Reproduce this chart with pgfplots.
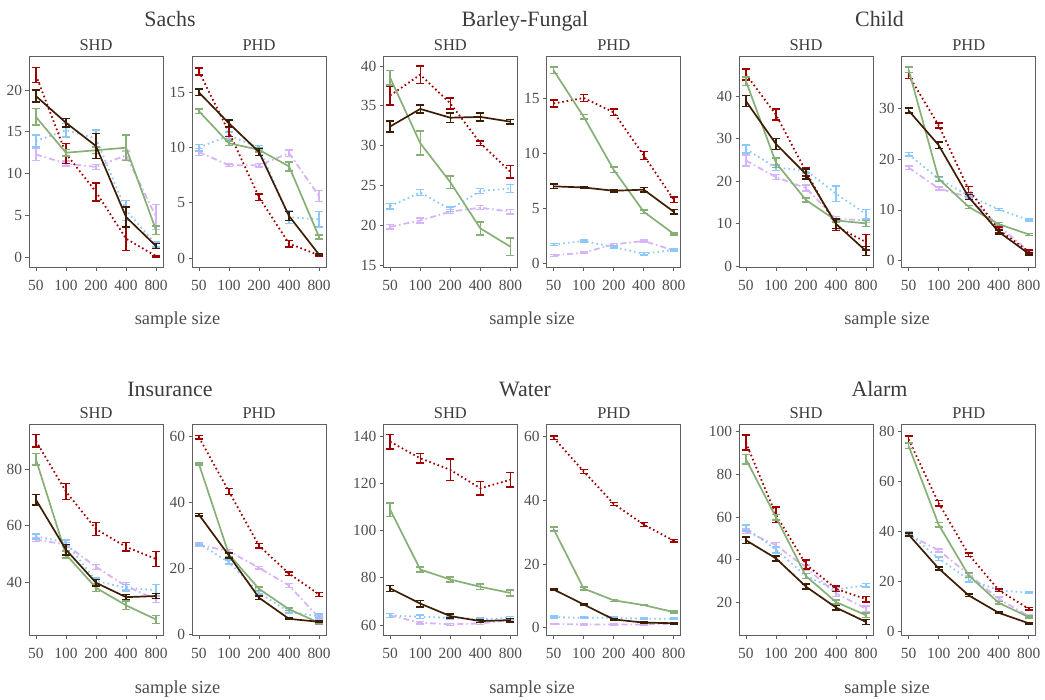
\documentclass[border=0pt]{standalone}
\usepackage{fontspec}
\setmainfont{Liberation Serif}
\usepackage{pgfplots}
\pgfplotsset{compat=1.18}

\definecolor{cRed}{RGB}{160,0,0}
\definecolor{cGreen}{RGB}{134,176,118}
\definecolor{cBrown}{RGB}{61,30,5}
\definecolor{cBlue}{RGB}{140,200,250}
\definecolor{cLav}{RGB}{215,180,250}
\definecolor{cFrame}{RGB}{95,95,95}
\definecolor{cText}{RGB}{77,77,77}
\definecolor{cTitle}{RGB}{60,60,60}

\pgfplotsset{
  panel/.style={
    scale only axis, width=134bp, height=211bp,
    xmin=-0.23, xmax=4.23,
    xtick={0,1,2,3,4}, xticklabels={50,100,200,400,800},
    axis line style={draw=cFrame, line width=1bp},
    tick style={draw=cFrame, line width=0.8bp},
    tick align=outside, major tick length=3.5bp,
    xtick pos=left, ytick pos=left,
    ticklabel style={font=\fontsize{15.5}{16}\selectfont, text=cText},
    xticklabel style={yshift=-6.5bp},
    /pgf/number format/assume math mode=true,
    title style={font=\fontsize{16.5}{17}\selectfont, text=cTitle,
      at={(0.5,1)}, anchor=base, yshift=0bp},
    no markers,
  },
  ebars/.style={
    error bars/.cd, y dir=both, y explicit,
    error bar style={solid, line width=1.5bp},
    error mark options={solid, rotate=90, mark size=4bp, line width=1.5bp},
  },
  sRed/.style={cRed, line width=1.8bp, dash pattern=on 1.6bp off 2.8bp, ebars},
  sGreen/.style={cGreen, line width=1.7bp, solid, ebars},
  sBrown/.style={cBrown, line width=1.7bp, solid, ebars},
  sBlue/.style={cBlue, line width=1.8bp, dash pattern=on 1.6bp off 3.2bp, ebars},
  sLav/.style={cLav, line width=1.8bp, dash pattern=on 6bp off 3bp on 1.6bp off 3bp, ebars},
}

\newcommand{\rowtitle}[3]{\node[anchor=base, font=\fontsize{22}{22}\selectfont, text=cTitle] at (#1bp,#2bp) {#3};}
\newcommand{\xlab}[2]{\node[anchor=base, font=\fontsize{18.5}{19}\selectfont, text=cText] at (#1bp,#2bp) {sample size};}

\begin{document}
\begin{tikzpicture}
\path[use as bounding box] (0bp,0bp) rectangle (1045bp,-700bp);

% ---------------- Sachs ----------------
\begin{axis}[panel, at={(29bp,-56bp)}, anchor=north west, title={SHD},
  ymin=-1.2, ymax=24.1, ytick={0,5,10,15,20}]
\addplot[sLav] coordinates {(0,12.3)+-(0,0.7) (1,11.2)+-(0,0.3) (2,10.8)+-(0,0.3) (3,12.2)+-(0,0.5) (4,4.8)+-(0,1.5)};
\addplot[sBlue] coordinates {(0,13.9)+-(0,0.7) (1,15.2)+-(0,0.8) (2,14.2)+-(0,1.0) (3,5.6)+-(0,1.2) (4,1.5)+-(0,0.3)};
\addplot[sRed] coordinates {(0,21.8)+-(0,0.9) (1,12.4)+-(0,1.2) (2,7.8)+-(0,1.1) (3,2.2)+-(0,1.4) (4,0.1)+-(0,0.1)};
\addplot[sGreen] coordinates {(0,16.8)+-(0,1.0) (1,12.5)+-(0,0.4) (2,12.8)+-(0,0.4) (3,13.1)+-(0,1.5) (4,3.2)+-(0,0.5)};
\addplot[sBrown] coordinates {(0,19.3)+-(0,0.7) (1,16.1)+-(0,0.5) (2,13.3)+-(0,1.5) (3,4.8)+-(0,1.2) (4,1.3)+-(0,0.3)};
\end{axis}
\begin{axis}[panel, at={(192bp,-56bp)}, anchor=north west, title={PHD},
  ymin=-0.82, ymax=18.3, ytick={0,5,10,15}]
\addplot[sLav] coordinates {(0,9.6)+-(0,0.3) (1,8.4)+-(0,0.1) (2,8.4)+-(0,0.15) (3,9.5)+-(0,0.3) (4,5.6)+-(0,0.5)};
\addplot[sBlue] coordinates {(0,10.0)+-(0,0.3) (1,11.1)+-(0,0.3) (2,10.0)+-(0,0.2) (3,3.7)+-(0,0.6) (4,3.5)+-(0,0.7)};
\addplot[sRed] coordinates {(0,16.9)+-(0,0.3) (1,11.4)+-(0,0.4) (2,5.5)+-(0,0.3) (3,1.3)+-(0,0.3) (4,0.25)+-(0,0.1)};
\addplot[sGreen] coordinates {(0,13.3)+-(0,0.2) (1,10.4)+-(0,0.2) (2,9.8)+-(0,0.2) (3,8.3)+-(0,0.4) (4,1.9)+-(0,0.2)};
\addplot[sBrown] coordinates {(0,15.0)+-(0,0.3) (1,12.2)+-(0,0.3) (2,9.6)+-(0,0.3) (3,3.8)+-(0,0.4) (4,0.3)+-(0,0.1)};
\end{axis}

% ---------------- Barley-Fungal ----------------
\begin{axis}[panel, at={(383.3bp,-56bp)}, anchor=north west, title={SHD},
  ymin=14.75, ymax=41.25, ytick={15,20,25,30,35,40}]
\addplot[sLav] coordinates {(0,19.8)+-(0,0.3) (1,20.6)+-(0,0.3) (2,21.7)+-(0,0.25) (3,22.2)+-(0,0.25) (4,21.7)+-(0,0.3)};
\addplot[sBlue] coordinates {(0,22.4)+-(0,0.35) (1,24.1)+-(0,0.4) (2,22.0)+-(0,0.3) (3,24.3)+-(0,0.3) (4,24.6)+-(0,0.5)};
\addplot[sRed] coordinates {(0,36.3)+-(0,1.2) (1,38.9)+-(0,1.1) (2,35.3)+-(0,0.7) (3,30.3)+-(0,0.3) (4,26.7)+-(0,0.8)};
\addplot[sGreen] coordinates {(0,38.5)+-(0,0.9) (1,30.3)+-(0,1.5) (2,25.4)+-(0,0.8) (3,19.6)+-(0,0.8) (4,17.3)+-(0,1.1)};
\addplot[sBrown] coordinates {(0,32.4)+-(0,0.7) (1,34.6)+-(0,0.5) (2,33.5)+-(0,0.6) (3,33.6)+-(0,0.5) (4,33.0)+-(0,0.3)};
\end{axis}
\begin{axis}[panel, at={(546.7bp,-56bp)}, anchor=north west, title={PHD},
  ymin=-0.3, ymax=18.8, ytick={0,5,10,15}]
\addplot[sLav] coordinates {(0,0.75)+-(0,0.08) (1,1.0)+-(0,0.08) (2,1.75)+-(0,0.1) (3,2.05)+-(0,0.1) (4,1.2)+-(0,0.1)};
\addplot[sBlue] coordinates {(0,1.75)+-(0,0.1) (1,2.05)+-(0,0.1) (2,1.5)+-(0,0.1) (3,0.9)+-(0,0.1) (4,1.25)+-(0,0.1)};
\addplot[sRed] coordinates {(0,14.5)+-(0,0.3) (1,15.0)+-(0,0.3) (2,13.7)+-(0,0.3) (3,9.8)+-(0,0.35) (4,5.8)+-(0,0.25)};
\addplot[sGreen] coordinates {(0,17.5)+-(0,0.3) (1,13.3)+-(0,0.2) (2,8.5)+-(0,0.25) (3,4.7)+-(0,0.15) (4,2.7)+-(0,0.1)};
\addplot[sBrown] coordinates {(0,7.0)+-(0,0.2) (1,6.9)+-(0,0.1) (2,6.6)+-(0,0.1) (3,6.7)+-(0,0.2) (4,4.7)+-(0,0.2)};
\end{axis}

% ---------------- Child ----------------
\begin{axis}[panel, at={(739bp,-56bp)}, anchor=north west, title={SHD},
  ymin=-0.25, ymax=49.4, ytick={0,10,20,30,40}]
\addplot[sLav] coordinates {(0,24.8)+-(0,1.3) (1,20.9)+-(0,0.6) (2,18.3)+-(0,0.7) (3,11.1)+-(0,0.5) (4,10.7)+-(0,0.5)};
\addplot[sBlue] coordinates {(0,27.5)+-(0,0.9) (1,23.1)+-(0,0.7) (2,22.5)+-(0,0.6) (3,17.0)+-(0,1.8) (4,12.2)+-(0,1.1)};
\addplot[sRed] coordinates {(0,45.1)+-(0,1.3) (1,35.6)+-(0,1.3) (2,22.2)+-(0,1.0) (3,9.3)+-(0,1.0) (4,5.6)+-(0,1.8)};
\addplot[sGreen] coordinates {(0,43.5)+-(0,1.0) (1,24.3)+-(0,1.1) (2,15.5)+-(0,0.5) (3,10.7)+-(0,0.4) (4,10.0)+-(0,0.7)};
\addplot[sBrown] coordinates {(0,38.8)+-(0,1.3) (1,28.7)+-(0,1.3) (2,21.6)+-(0,1.2) (3,9.9)+-(0,1.1) (4,3.5)+-(0,1.1)};
\end{axis}
\begin{axis}[panel, at={(901.7bp,-56bp)}, anchor=north west, title={PHD},
  ymin=-1.2, ymax=40.2, ytick={0,10,20,30}]
\addplot[sLav] coordinates {(0,18.3)+-(0,0.35) (1,14.2)+-(0,0.3) (2,12.5)+-(0,0.3) (3,6.8)+-(0,0.3) (4,1.9)+-(0,0.2)};
\addplot[sBlue] coordinates {(0,20.9)+-(0,0.35) (1,16.1)+-(0,0.3) (2,12.8)+-(0,0.3) (3,10.1)+-(0,0.2) (4,8.0)+-(0,0.2)};
\addplot[sRed] coordinates {(0,36.4)+-(0,0.6) (1,26.6)+-(0,0.5) (2,14.0)+-(0,0.6) (3,6.1)+-(0,0.5) (4,1.8)+-(0,0.3)};
\addplot[sGreen] coordinates {(0,37.5)+-(0,0.5) (1,16.1)+-(0,0.5) (2,10.6)+-(0,0.3) (3,7.2)+-(0,0.3) (4,5.2)+-(0,0.2)};
\addplot[sBrown] coordinates {(0,29.5)+-(0,0.5) (1,22.7)+-(0,0.6) (2,12.5)+-(0,0.5) (3,5.7)+-(0,0.4) (4,1.4)+-(0,0.2)};
\end{axis}

% ---------------- Insurance ----------------
\begin{axis}[panel, at={(29bp,-424bp)}, anchor=north west, title={SHD},
  ymin=21.3, ymax=96.0, ytick={40,60,80}]
\addplot[sLav] coordinates {(0,55.1)+-(0,0.7) (1,53.3)+-(0,0.8) (2,45.4)+-(0,0.9) (3,38.6)+-(0,1.3) (4,33.9)+-(0,1.1)};
\addplot[sBlue] coordinates {(0,56.2)+-(0,0.9) (1,54.1)+-(0,0.9) (2,40.5)+-(0,1.0) (3,38.0)+-(0,1.2) (4,37.2)+-(0,2.0)};
\addplot[sRed] coordinates {(0,90.0)+-(0,2.2) (1,72.1)+-(0,2.9) (2,58.8)+-(0,2.3) (3,52.5)+-(0,1.5) (4,48.2)+-(0,2.6)};
\addplot[sGreen] coordinates {(0,83.5)+-(0,2.0) (1,49.8)+-(0,1.2) (2,38.0)+-(0,1.3) (3,31.8)+-(0,1.5) (4,26.8)+-(0,1.4)};
\addplot[sBrown] coordinates {(0,69.2)+-(0,1.9) (1,51.5)+-(0,1.9) (2,39.8)+-(0,1.2) (3,34.7)+-(0,0.9) (4,35.1)+-(0,0.9)};
\end{axis}
\begin{axis}[panel, at={(192bp,-424bp)}, anchor=north west, title={PHD},
  ymin=-0.2, ymax=63.8, ytick={0,20,40,60}]
\addplot[sLav] coordinates {(0,27.2)+-(0,0.4) (1,25.2)+-(0,0.5) (2,20.2)+-(0,0.4) (3,14.8)+-(0,0.6) (4,5.0)+-(0,0.5)};
\addplot[sBlue] coordinates {(0,27.5)+-(0,0.4) (1,21.9)+-(0,0.6) (2,12.6)+-(0,0.4) (3,6.8)+-(0,0.4) (4,5.5)+-(0,0.6)};
\addplot[sRed] coordinates {(0,59.8)+-(0,0.5) (1,43.3)+-(0,0.9) (2,26.9)+-(0,0.7) (3,18.4)+-(0,0.5) (4,12.1)+-(0,0.6)};
\addplot[sGreen] coordinates {(0,51.7)+-(0,0.3) (1,24.2)+-(0,0.6) (2,13.8)+-(0,0.5) (3,7.6)+-(0,0.4) (4,3.5)+-(0,0.3)};
\addplot[sBrown] coordinates {(0,36.3)+-(0,0.4) (1,23.9)+-(0,0.7) (2,11.1)+-(0,0.5) (3,4.7)+-(0,0.2) (4,3.8)+-(0,0.2)};
\end{axis}

% ---------------- Water ----------------
\begin{axis}[panel, at={(383.3bp,-424bp)}, anchor=north west, title={SHD},
  ymin=55.8, ymax=145.1, ytick={60,80,100,120,140}]
\addplot[sLav] coordinates {(0,64.1)+-(0,0.8) (1,61.0)+-(0,0.5) (2,60.3)+-(0,0.4) (3,60.7)+-(0,0.4) (4,62.1)+-(0,0.4)};
\addplot[sBlue] coordinates {(0,64.1)+-(0,0.9) (1,63.5)+-(0,0.7) (2,63.1)+-(0,0.5) (3,62.4)+-(0,0.5) (4,63.1)+-(0,0.6)};
\addplot[sRed] coordinates {(0,137.6)+-(0,3.0) (1,130.6)+-(0,2.0) (2,125.7)+-(0,4.5) (3,117.9)+-(0,2.8) (4,121.5)+-(0,3.0)};
\addplot[sGreen] coordinates {(0,108.8)+-(0,2.8) (1,83.5)+-(0,1.1) (2,79.3)+-(0,1.1) (3,76.2)+-(0,1.1) (4,73.6)+-(0,1.3)};
\addplot[sBrown] coordinates {(0,75.5)+-(0,1.2) (1,69.1)+-(0,1.4) (2,63.8)+-(0,0.9) (3,61.7)+-(0,0.7) (4,62.1)+-(0,0.7)};
\end{axis}
\begin{axis}[panel, at={(546.7bp,-424bp)}, anchor=north west, title={PHD},
  ymin=-2.3, ymax=64.0, ytick={0,20,40,60}]
\addplot[sLav] coordinates {(0,1.15)+-(0,0.1) (1,1.0)+-(0,0.1) (2,1.0)+-(0,0.1) (3,1.0)+-(0,0.1) (4,1.25)+-(0,0.1)};
\addplot[sBlue] coordinates {(0,3.3)+-(0,0.3) (1,3.1)+-(0,0.2) (2,3.1)+-(0,0.2) (3,2.8)+-(0,0.2) (4,2.8)+-(0,0.2)};
\addplot[sRed] coordinates {(0,59.7)+-(0,0.5) (1,49.1)+-(0,0.6) (2,38.9)+-(0,0.5) (3,32.4)+-(0,0.6) (4,27.3)+-(0,0.4)};
\addplot[sGreen] coordinates {(0,31.0)+-(0,0.6) (1,12.3)+-(0,0.5) (2,8.6)+-(0,0.3) (3,7.1)+-(0,0.2) (4,4.9)+-(0,0.3)};
\addplot[sBrown] coordinates {(0,12.0)+-(0,0.2) (1,7.3)+-(0,0.2) (2,2.6)+-(0,0.2) (3,1.6)+-(0,0.2) (4,1.4)+-(0,0.2)};
\end{axis}

% ---------------- Alarm ----------------
\begin{axis}[panel, at={(739bp,-424bp)}, anchor=north west, title={SHD},
  ymin=4.9, ymax=103.5, ytick={20,40,60,80,100}]
\addplot[sLav] coordinates {(0,53.4)+-(0,1.1) (1,46.9)+-(0,1.2) (2,36.3)+-(0,1.2) (3,24.3)+-(0,1.3) (4,17.2)+-(0,1.3)};
\addplot[sBlue] coordinates {(0,54.9)+-(0,1.3) (1,44.8)+-(0,1.5) (2,32.4)+-(0,1.2) (3,26.2)+-(0,0.8) (4,28.1)+-(0,0.8)};
\addplot[sRed] coordinates {(0,94.8)+-(0,3.5) (1,61.1)+-(0,3.7) (2,37.9)+-(0,2.1) (3,26.5)+-(0,1.3) (4,21.6)+-(0,1.2)};
\addplot[sGreen] coordinates {(0,87.1)+-(0,2.2) (1,59.9)+-(0,1.3) (2,32.4)+-(0,1.2) (3,20.3)+-(0,1.0) (4,14.1)+-(0,1.0)};
\addplot[sBrown] coordinates {(0,49.2)+-(0,1.5) (1,40.7)+-(0,1.2) (2,27.5)+-(0,1.2) (3,17.7)+-(0,1.1) (4,11.0)+-(0,1.1)};
\end{axis}
\begin{axis}[panel, at={(901.7bp,-424bp)}, anchor=north west, title={PHD},
  ymin=-1.6, ymax=83.1, ytick={0,20,40,60,80}]
\addplot[sLav] coordinates {(0,38.7)+-(0,0.5) (1,32.4)+-(0,0.6) (2,22.7)+-(0,0.7) (3,12.9)+-(0,0.7) (4,6.0)+-(0,0.4)};
\addplot[sBlue] coordinates {(0,39.3)+-(0,0.5) (1,29.1)+-(0,0.7) (2,20.7)+-(0,1.0) (3,16.4)+-(0,0.4) (4,15.3)+-(0,0.3)};
\addplot[sRed] coordinates {(0,76.9)+-(0,1.3) (1,51.3)+-(0,1.1) (2,30.7)+-(0,0.7) (3,16.4)+-(0,0.5) (4,8.9)+-(0,0.5)};
\addplot[sGreen] coordinates {(0,74.3)+-(0,1.1) (1,42.7)+-(0,0.9) (2,22.3)+-(0,0.9) (3,11.3)+-(0,0.5) (4,5.6)+-(0,0.4)};
\addplot[sBrown] coordinates {(0,38.7)+-(0,0.6) (1,25.1)+-(0,0.6) (2,14.3)+-(0,0.5) (3,7.3)+-(0,0.3) (4,3.1)+-(0,0.3)};
\end{axis}

% dataset names and shared x-axis labels
\rowtitle{170}{-26}{Sachs}
\rowtitle{525}{-26}{Barley-Fungal}
\rowtitle{879.5}{-26}{Child}
\rowtitle{170}{-396}{Insurance}
\rowtitle{525}{-396}{Water}
\rowtitle{879.5}{-396}{Alarm}
\xlab{177.5}{-324}
\xlab{532}{-324}
\xlab{887}{-324}
\xlab{177.5}{-693.3}
\xlab{532}{-693.3}
\xlab{887}{-693.3}
\end{tikzpicture}
\end{document}
